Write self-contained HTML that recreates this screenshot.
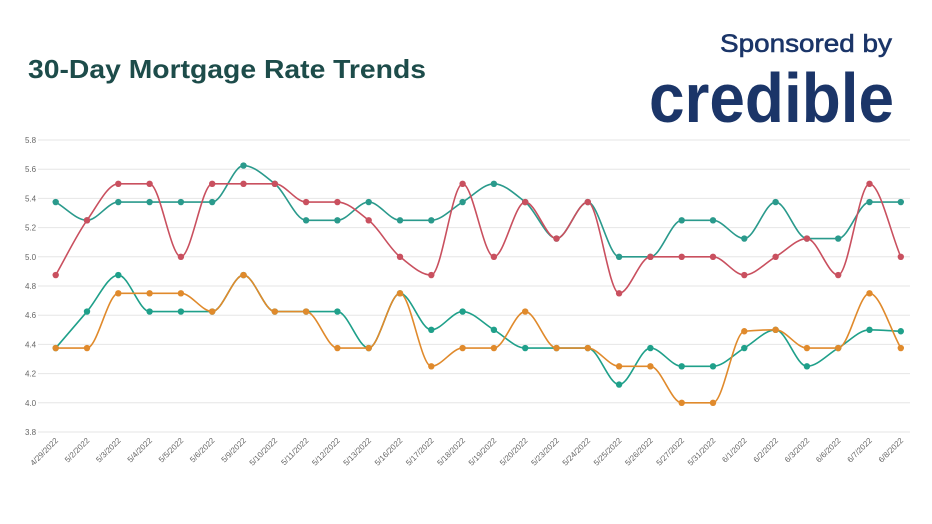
<!DOCTYPE html>
<html><head><meta charset="utf-8"><style>
html,body{margin:0;padding:0;background:#fff;}
svg{display:block;font-family:"Liberation Sans",sans-serif;}
</style></head><body>
<svg id="s" width="932" height="524" viewBox="0 0 932 524">
<text x="28" y="78" font-size="26" font-weight="bold" fill="#1d4c4a" textLength="398" lengthAdjust="spacingAndGlyphs">30-Day Mortgage Rate Trends</text>
<text x="720" y="52" font-size="25" fill="#1b3568" stroke="#1b3568" stroke-width="0.6" textLength="172" lengthAdjust="spacingAndGlyphs">Sponsored by</text>
<text x="649" y="122" font-size="70" font-weight="bold" fill="#1b3568" textLength="245" lengthAdjust="spacingAndGlyphs">credible</text>
<g id="g"></g>
</svg>
<script>
var ns="http://www.w3.org/2000/svg",g=document.getElementById("g");
function Y(v){return 140+(5.8-v)*146;}
function X(i){return 55.7+i*31.3;}
function el(t,a,txt){var e=document.createElementNS(ns,t);for(var k in a)e.setAttribute(k,a[k]);if(txt)e.textContent=txt;g.appendChild(e);return e;}
for(var v=0;v<=10;v++){var val=5.8-v*0.2,y=Y(val);
el("line",{x1:38,x2:910,y1:y,y2:y,stroke:"#e6e6e6","stroke-width":1});
el("text",{x:25,y:y+3,"font-size":8,fill:"#666"},val.toFixed(1));}
var d=["4/29/2022","5/2/2022","5/3/2022","5/4/2022","5/5/2022","5/6/2022","5/9/2022","5/10/2022","5/11/2022","5/12/2022","5/13/2022","5/16/2022","5/17/2022","5/18/2022","5/19/2022","5/20/2022","5/23/2022","5/24/2022","5/25/2022","5/26/2022","5/27/2022","5/31/2022","6/1/2022","6/2/2022","6/3/2022","6/6/2022","6/7/2022","6/8/2022"];
d.forEach(function(t,i){var x=X(i)+3,y=441;el("text",{x:x,y:y,"font-size":8,fill:"#666","text-anchor":"end",transform:"rotate(-45 "+x+" "+y+")"},t);});
var S=[
["#2a9a8c",[5.375,5.25,5.375,5.375,5.375,5.375,5.625,5.5,5.25,5.25,5.375,5.25,5.25,5.375,5.5,5.375,5.125,5.375,5.0,5.0,5.25,5.25,5.125,5.375,5.125,5.125,5.375,5.375]],
["#c9505f",[4.875,5.25,5.5,5.5,5.0,5.5,5.5,5.5,5.375,5.375,5.25,5.0,4.875,5.5,5.0,5.375,5.125,5.375,4.75,5.0,5.0,5.0,4.875,5.0,5.125,4.875,5.5,5.0]],
["#1fa08a",[4.375,4.625,4.875,4.625,4.625,4.625,4.875,4.625,4.625,4.625,4.375,4.75,4.5,4.625,4.5,4.375,4.375,4.375,4.125,4.375,4.25,4.25,4.375,4.5,4.25,4.375,4.5,4.49]],
["#e08a2c",[4.375,4.375,4.75,4.75,4.75,4.625,4.875,4.625,4.625,4.375,4.375,4.75,4.25,4.375,4.375,4.625,4.375,4.375,4.25,4.25,4.0,4.0,4.49,4.5,4.375,4.375,4.75,4.375]]];
S.forEach(function(s){var p=s[1].map(function(v,i){return [X(i),Y(v)];});
var n=p.length,m=[];
for(var i=0;i<n;i++){var a=i>0?(p[i][1]-p[i-1][1])/31.3:null,b=i<n-1?(p[i+1][1]-p[i][1])/31.3:null;
if(a===null)m.push(b);else if(b===null)m.push(a);else if(a*b<=0)m.push(0);else m.push(2/(1/a+1/b));}
var dd="M"+p[0][0]+","+p[0][1];
for(var i=0;i<n-1;i++){var h=31.3/3;dd+=" C"+(p[i][0]+h)+","+(p[i][1]+m[i]*h)+" "+(p[i+1][0]-h)+","+(p[i+1][1]-m[i+1]*h)+" "+p[i+1][0]+","+p[i+1][1];}
el("path",{d:dd,fill:"none",stroke:s[0],"stroke-width":1.6});
p.forEach(function(q){el("circle",{cx:q[0],cy:q[1],r:3.2,fill:s[0]});});});
</script>
</body></html>
